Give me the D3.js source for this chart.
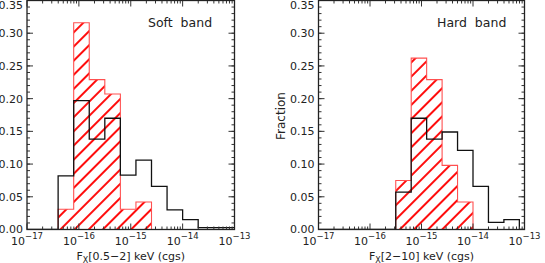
<!DOCTYPE html>
<html>
<head>
<meta charset="utf-8">
<script src="https://cdn.jsdelivr.net/npm/d3@7"></script>
<style>
body { margin: 0; background: #fff; }
svg { display: block; font-family: "DejaVu Sans", sans-serif; }
</style>
</head>
<body>
<div id="chart"></div>
<script>
// bin edges in log10(flux), 0.3 dex bins
const binEdges = [-17.0, -16.7, -16.4, -16.1, -15.8, -15.5, -15.2, -14.9, -14.6, -14.3, -14.0, -13.7, -13.4, -13.1, -12.8];
// fractions per bin
const softAll = [0, 0, 0.082, 0.197, 0.138, 0.170, 0.083, 0.106, 0.066, 0.030, 0.015, 0.003, 0.003, 0.003];
const softSel = [0, 0, 0.031, 0.316, 0.229, 0.207, 0.031, 0.042, 0, 0, 0, 0, 0, 0];
const hardAll = [0, 0, 0, 0, 0, 0.057, 0.170, 0.138, 0.149, 0.121, 0.066, 0.011, 0.015, 0];
const hardSel = [0, 0, 0, 0, 0, 0.075, 0.262, 0.229, 0.098, 0.042, 0, 0, 0, 0];
const yTicks = [0, 0.05, 0.10, 0.15, 0.20, 0.25, 0.30, 0.35];
const xDecades = [-17, -16, -15, -14, -13];
const panelNames = ["Soft  band", "Hard  band"];
const bandLabels = ["[0.5\u22122] keV (cgs)", "[2\u221210] keV (cgs)"];

(function() {

const W = 545, H = 263;
const plotTop = 0.5, plotBottom = 229.5;

const svg = d3.select("#chart").append("svg")
	.attr("width", W)
	.attr("height", H);

const defs = svg.append("defs");
defs.append("pattern")
	.attr("id", "hatch")
	.attr("patternUnits", "userSpaceOnUse")
	.attr("width", 10)
	.attr("height", 10)
	.attr("patternTransform", "rotate(-45)")
	.append("line")
	.attr("x1", -1).attr("x2", 11)
	.attr("y1", 5).attr("y2", 5)
	.attr("stroke", "#ff0000")
	.attr("stroke-width", 1.9);

const panels = [
	{ left: 27, right: 234.5, all: softAll, sel: softSel, name: panelNames[0], nameX: 148, band: bandLabels[0], yTitle: false },
	{ left: 318.5, right: 524.5, all: hardAll, sel: hardSel, name: panelNames[1], nameX: 437, band: bandLabels[1], yTitle: true }
];

const y = d3.scaleLinear().domain([0, 0.35]).range([plotBottom, plotTop]);

panels.forEach(function(p, i) {
	const x = d3.scaleLog().domain([1e-17, 1e-13]).range([p.left, p.right]);
	const g = svg.append("g");

	defs.append("clipPath").attr("id", "clip" + i)
		.append("rect")
		.attr("x", p.left).attr("y", plotTop)
		.attr("width", p.right - p.left).attr("height", plotBottom - plotTop);

	const pts = function(vals) {
		let a = vals.map(function(v, k) { return [binEdges[k], v]; });
		a.push([binEdges[binEdges.length - 1], vals[vals.length - 1]]);
		return a;
	};

	const line = d3.line()
		.curve(d3.curveStepAfter)
		.x(function(d) { return x(Math.pow(10, d[0])); })
		.y(function(d) { return y(d[1]); });

	const area = d3.area()
		.curve(d3.curveStepAfter)
		.x(function(d) { return x(Math.pow(10, d[0])); })
		.y0(y(0))
		.y1(function(d) { return y(d[1]); });

	const plot = g.append("g").attr("clip-path", "url(#clip" + i + ")");

	plot.append("path")
		.attr("d", area(pts(p.sel)))
		.attr("fill", "url(#hatch)");

	plot.append("path")
		.attr("d", line(pts(p.sel)))
		.attr("fill", "none")
		.attr("stroke", "#ff5050")
		.attr("stroke-width", 1.1);

	plot.append("path")
		.attr("d", line(pts(p.all)))
		.attr("fill", "none")
		.attr("stroke", "#111")
		.attr("stroke-width", 1.3);

	// ticks
	let minor = [];
	for (let d = -17; d < -13; d++) {
		for (let m = 2; m <= 9; m++) minor.push(m * Math.pow(10, d));
	}
	const major = xDecades.map(function(d) { return Math.pow(10, d); });
	const yMinor = d3.range(0, 36).map(function(k) { return k / 100; });

	const axes = g.append("g").attr("stroke", "#333").attr("stroke-width", 1);
	const addTicks = function(vals, len) {
		vals.forEach(function(v) {
			const xv = x(v);
			axes.append("line").attr("x1", xv).attr("x2", xv).attr("y1", plotBottom).attr("y2", plotBottom - len);
			axes.append("line").attr("x1", xv).attr("x2", xv).attr("y1", plotTop).attr("y2", plotTop + len);
		});
	};
	addTicks(minor, 3);
	addTicks(major, 6);
	const addYTicks = function(vals, len) {
		vals.forEach(function(v) {
			const yv = y(v);
			axes.append("line").attr("x1", p.left).attr("x2", p.left + len).attr("y1", yv).attr("y2", yv);
			axes.append("line").attr("x1", p.right).attr("x2", p.right - len).attr("y1", yv).attr("y2", yv);
		});
	};
	addYTicks(yMinor, 3);
	addYTicks(yTicks, 6);

	g.append("rect")
		.attr("x", p.left).attr("y", plotTop)
		.attr("width", p.right - p.left).attr("height", plotBottom - plotTop)
		.attr("fill", "none")
		.attr("stroke", "#222")
		.attr("stroke-width", 1.3);

	// y tick labels (top one kept inside the page)
	g.selectAll(".ylab").data(yTicks).enter().append("text")
		.attr("x", p.left - 4)
		.attr("y", function(d) { return Math.max(y(d), 5); })
		.attr("dy", "0.36em")
		.attr("text-anchor", "end")
		.attr("font-size", 11)
		.attr("fill", "#222")
		.text(function(d) { return d.toFixed(2); });

	// x tick labels
	xDecades.forEach(function(d) {
		const t = g.append("text")
			.attr("x", x(Math.pow(10, d)))
			.attr("y", 245)
			.attr("text-anchor", "middle")
			.attr("fill", "#222")
			.attr("font-size", 11);
		t.append("tspan").text("10");
		t.append("tspan").attr("font-size", 8.5).attr("dy", -6).text("\u2212" + Math.abs(d));
	});

	// x title
	const xt = g.append("text")
		.attr("x", (p.left + p.right) / 2)
		.attr("y", 260)
		.attr("text-anchor", "middle")
		.attr("fill", "#222")
		.attr("font-size", 11);
	xt.append("tspan").text("F");
	xt.append("tspan").attr("font-size", 8).attr("dy", 2.5).text("X");
	xt.append("tspan").attr("dy", -2.5).text(p.band);

	g.append("text")
		.attr("x", p.nameX)
		.attr("y", 27)
		.attr("fill", "#222")
		.attr("font-size", 12.5)
		.style("white-space", "pre")
		.text(p.name);

	if (p.yTitle) {
		g.append("text")
			.attr("transform", "translate(285,116) rotate(-90)")
			.attr("text-anchor", "middle")
			.attr("fill", "#222")
			.attr("font-size", 12)
			.text("Fraction");
	}
});

})();
</script>
</body>
</html>
